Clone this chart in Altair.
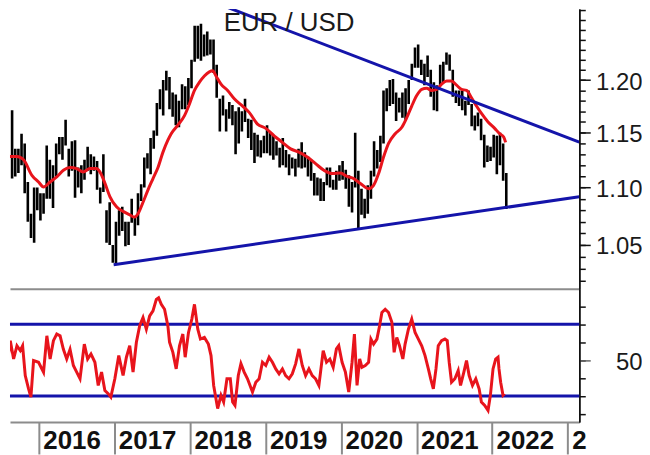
import altair as alt
import pandas as pd

# ---------------- data ----------------
# EUR/USD half-month price ranges, starting with the 2nd half of Aug 2015
FIRST_HALF_MONTH = 15  # half-months counted from Jan 2015 (Aug 2nd half = 15)
bar_low = [
    1.108, 1.110, 1.113, 1.120, 1.095, 1.070, 1.056, 1.052, 1.080,
    1.071, 1.077, 1.090, 1.090, 1.082, 1.110, 1.130, 1.125, 1.138, 1.110, 1.115, 1.091,
    1.100, 1.095, 1.107, 1.115, 1.112, 1.115, 1.098, 1.086, 1.096, 1.052, 1.050, 1.035,
    1.034, 1.058, 1.062, 1.049, 1.050, 1.069, 1.058, 1.067, 1.088, 1.100, 1.117, 1.112,
    1.135, 1.147, 1.172, 1.166, 1.190, 1.172, 1.165, 1.157, 1.155, 1.172, 1.172, 1.176,
    1.192, 1.218, 1.221, 1.219, 1.223, 1.224, 1.225, 1.207, 1.183, 1.151, 1.166, 1.151,
    1.163, 1.157, 1.130, 1.140, 1.151, 1.160, 1.145, 1.134, 1.122, 1.128, 1.127, 1.131,
    1.131, 1.129, 1.125, 1.129, 1.118, 1.120, 1.118, 1.111, 1.117, 1.110, 1.118, 1.117,
    1.118, 1.110, 1.106, 1.093, 1.093, 1.088, 1.088, 1.102, 1.100, 1.098, 1.098, 1.106,
    1.107, 1.099, 1.083, 1.078, 1.100, 1.064, 1.076, 1.073, 1.077, 1.090, 1.110, 1.117,
    1.123, 1.140, 1.170, 1.175, 1.177, 1.161, 1.169, 1.164, 1.162, 1.177, 1.200, 1.212,
    1.212, 1.205, 1.195, 1.203, 1.184, 1.171, 1.170, 1.195, 1.198, 1.215, 1.209, 1.184,
    1.178, 1.175, 1.171, 1.166, 1.176, 1.156, 1.152, 1.156, 1.143, 1.118, 1.123, 1.124,
    1.127, 1.112, 1.120, 1.106, 1.081,
]
bar_high = [
    1.171, 1.135, 1.135, 1.149, 1.140, 1.105, 1.077, 1.100, 1.100,
    1.095, 1.095, 1.138, 1.125, 1.120, 1.140, 1.146, 1.146, 1.162, 1.135, 1.142, 1.143,
    1.118, 1.120, 1.125, 1.137, 1.130, 1.128, 1.124, 1.100, 1.130, 1.080, 1.087, 1.050,
    1.070, 1.080, 1.083, 1.070, 1.070, 1.090, 1.075, 1.095, 1.103, 1.127, 1.131, 1.145,
    1.152, 1.178, 1.191, 1.200, 1.209, 1.203, 1.188, 1.186, 1.180, 1.196, 1.194, 1.202,
    1.220, 1.254, 1.254, 1.256, 1.245, 1.248, 1.240, 1.240, 1.215, 1.182, 1.185, 1.172,
    1.179, 1.176, 1.170, 1.174, 1.170, 1.182, 1.163, 1.162, 1.150, 1.148, 1.143, 1.147,
    1.157, 1.150, 1.148, 1.142, 1.136, 1.145, 1.134, 1.130, 1.127, 1.126, 1.135, 1.141,
    1.132, 1.128, 1.125, 1.113, 1.109, 1.108, 1.105, 1.118, 1.118, 1.107, 1.115, 1.120,
    1.124, 1.116, 1.111, 1.105, 1.150, 1.115, 1.099, 1.090, 1.102, 1.115, 1.142, 1.134,
    1.147, 1.190, 1.192, 1.200, 1.201, 1.188, 1.183, 1.188, 1.192, 1.200, 1.216, 1.232,
    1.235, 1.220, 1.216, 1.224, 1.210, 1.198, 1.195, 1.215, 1.218, 1.227, 1.225, 1.210,
    1.190, 1.190, 1.190, 1.180, 1.190, 1.177, 1.166, 1.169, 1.163, 1.148, 1.138, 1.137,
    1.148, 1.147, 1.150, 1.140, 1.113,
]

# red moving average (decimal year, price)
ma_points = [
    (2015.513, 1.140), (2015.556, 1.134), (2015.622, 1.128), (2015.710, 1.128),
    (2015.798, 1.125), (2015.908, 1.111), (2015.996, 1.105), (2016.062, 1.1005),
    (2016.149, 1.105), (2016.237, 1.1095), (2016.325, 1.1155), (2016.413, 1.118),
    (2016.501, 1.117), (2016.588, 1.114), (2016.676, 1.117), (2016.764, 1.117),
    (2016.808, 1.114), (2016.874, 1.104), (2016.940, 1.092), (2017.028, 1.083),
    (2017.115, 1.079), (2017.203, 1.076), (2017.269, 1.074), (2017.313, 1.077),
    (2017.379, 1.087), (2017.445, 1.098), (2017.511, 1.108), (2017.577, 1.118),
    (2017.643, 1.132), (2017.708, 1.143), (2017.752, 1.149), (2017.840, 1.157),
    (2017.928, 1.166), (2017.994, 1.177), (2018.060, 1.190), (2018.126, 1.198),
    (2018.191, 1.204), (2018.257, 1.208), (2018.301, 1.209), (2018.345, 1.204),
    (2018.411, 1.196), (2018.499, 1.190), (2018.587, 1.182), (2018.697, 1.175),
    (2018.784, 1.169), (2018.894, 1.158), (2019.004, 1.154), (2019.114, 1.147),
    (2019.223, 1.141), (2019.333, 1.135), (2019.443, 1.132), (2019.553, 1.1275),
    (2019.663, 1.1215), (2019.773, 1.1155), (2019.882, 1.1125), (2019.992, 1.113),
    (2020.080, 1.110), (2020.168, 1.108), (2020.256, 1.1036), (2020.365, 1.099),
    (2020.431, 1.102), (2020.497, 1.1125), (2020.563, 1.1275), (2020.629, 1.140),
    (2020.717, 1.149), (2020.805, 1.155), (2020.870, 1.164), (2020.936, 1.175),
    (2021.002, 1.185), (2021.068, 1.191), (2021.134, 1.192), (2021.200, 1.190),
    (2021.266, 1.191), (2021.332, 1.196), (2021.398, 1.199), (2021.463, 1.199),
    (2021.529, 1.195), (2021.595, 1.191), (2021.661, 1.190), (2021.727, 1.183),
    (2021.793, 1.175), (2021.859, 1.168), (2021.946, 1.160), (2022.034, 1.154),
    (2022.100, 1.149), (2022.153, 1.146), (2022.179, 1.141),
]

# oscillator in the lower panel (decimal year, value)
rsi_points = [
    (2015.534, 39.6), (2015.578, 47.0), (2015.622, 60.8), (2015.666, 50.6), (2015.710, 58.0),
    (2015.754, 55.3), (2015.785, 58.0), (2015.820, 41.4), (2015.864, 34.0), (2015.895, 29.4),
    (2015.930, 49.7), (2015.996, 48.8), (2016.062, 43.3), (2016.106, 63.5), (2016.149, 50.6),
    (2016.193, 60.8), (2016.237, 64.5), (2016.281, 63.5), (2016.325, 56.0), (2016.369, 50.6),
    (2016.413, 56.0), (2016.457, 47.0), (2016.501, 43.3), (2016.545, 39.6), (2016.602, 58.9),
    (2016.646, 50.6), (2016.690, 53.4), (2016.742, 48.8), (2016.786, 35.9), (2016.830, 43.3),
    (2016.874, 33.1), (2016.918, 31.3), (2016.953, 29.4), (2017.006, 39.6), (2017.058, 52.5),
    (2017.115, 41.4), (2017.159, 51.6), (2017.203, 58.0), (2017.247, 43.3), (2017.291, 59.9),
    (2017.335, 69.1), (2017.379, 73.7), (2017.423, 67.2), (2017.467, 74.6), (2017.511, 77.4),
    (2017.555, 83.8), (2017.585, 84.7), (2017.621, 81.0), (2017.664, 78.3), (2017.708, 69.0),
    (2017.730, 59.9), (2017.774, 54.3), (2017.818, 45.1), (2017.862, 58.0), (2017.906, 64.5),
    (2017.937, 51.6), (2017.981, 65.4), (2018.025, 72.8), (2018.060, 81.0), (2018.104, 67.2),
    (2018.139, 61.7), (2018.191, 62.6), (2018.244, 58.9), (2018.279, 52.5), (2018.314, 35.9),
    (2018.367, 23.0), (2018.411, 30.4), (2018.446, 26.7), (2018.490, 39.6), (2018.534, 39.6),
    (2018.565, 26.7), (2018.596, 24.8), (2018.640, 41.4), (2018.675, 48.0), (2018.718, 43.3),
    (2018.762, 39.6), (2018.828, 32.2), (2018.872, 37.7), (2018.916, 39.6), (2018.960, 48.8),
    (2019.004, 47.0), (2019.048, 51.6), (2019.092, 48.8), (2019.136, 45.1), (2019.180, 42.4),
    (2019.224, 45.1), (2019.267, 41.4), (2019.311, 39.6), (2019.355, 42.4), (2019.399, 47.9),
    (2019.443, 56.2), (2019.487, 47.0), (2019.531, 41.4), (2019.575, 45.1), (2019.619, 41.4),
    (2019.663, 39.6), (2019.707, 35.9), (2019.764, 55.3), (2019.808, 48.8), (2019.852, 50.6),
    (2019.896, 46.0), (2019.939, 56.2), (2019.970, 58.0), (2020.014, 48.8), (2020.058, 43.3),
    (2020.102, 32.2), (2020.146, 48.8), (2020.177, 64.5), (2020.212, 35.9), (2020.247, 50.6),
    (2020.277, 46.0), (2020.321, 47.0), (2020.365, 48.8), (2020.396, 61.7), (2020.431, 58.9),
    (2020.475, 61.7), (2020.510, 69.0), (2020.541, 76.5), (2020.585, 78.3), (2020.629, 76.5),
    (2020.673, 71.0), (2020.703, 54.3), (2020.738, 62.6), (2020.774, 58.0), (2020.818, 50.6),
    (2020.848, 58.9), (2020.892, 67.2), (2020.936, 72.8), (2020.980, 65.4), (2021.024, 61.7),
    (2021.068, 58.0), (2021.112, 52.5), (2021.156, 45.1), (2021.187, 39.6), (2021.222, 34.0),
    (2021.257, 45.1), (2021.287, 58.0), (2021.331, 60.8), (2021.375, 61.7), (2021.406, 60.8),
    (2021.432, 48.8), (2021.463, 37.7), (2021.507, 39.6), (2021.551, 44.2), (2021.582, 35.9),
    (2021.626, 43.3), (2021.661, 49.7), (2021.696, 41.4), (2021.740, 35.9), (2021.784, 39.6),
    (2021.828, 34.0), (2021.858, 26.7), (2021.902, 24.8), (2021.946, 22.0), (2021.977, 30.4),
    (2022.012, 45.1), (2022.047, 50.6), (2022.078, 51.6), (2022.091, 45.1), (2022.113, 37.7),
    (2022.144, 30.4), (2022.166, 31.3),
]

upper_trend = [(2018.148, 1.2832), (2023.154, 1.1412)]
lower_trend = [(2016.990, 1.0333), (2023.154, 1.0919)]
rsi_levels = [30, 70]

year_ticks = [2016, 2017, 2018, 2019, 2020, 2021, 2022, 2023]
price_labels = [1.05, 1.10, 1.15, 1.20]
price_minor = [1.02, 1.03, 1.04, 1.05, 1.06, 1.07, 1.08, 1.09, 1.10, 1.11, 1.12, 1.13, 1.14,
               1.15, 1.16, 1.17, 1.18, 1.19, 1.20, 1.21, 1.22, 1.23, 1.24, 1.25, 1.26, 1.27]
rsi_labels = [50]
rsi_minor = [20, 30, 40, 50, 60, 70, 80, 90]
title_text = "EUR / USD"

# ---------------- tables ----------------
bar_t = []
for i in range(len(bar_low)):
    k = FIRST_HALF_MONTH + i
    year = 2015 + k // 24
    idx = k % 24
    bar_t.append(year + (idx // 2 + 0.25 + 0.5 * (idx % 2)) / 12.0)
bars_df = pd.DataFrame({"t": bar_t, "low": bar_low, "high": bar_high})
ma_df = pd.DataFrame(ma_points, columns=["t", "p"])
rsi_df = pd.DataFrame(rsi_points, columns=["t", "v"])
trend_df = pd.DataFrame(
    [("upper", t, p) for t, p in upper_trend] + [("lower", t, p) for t, p in lower_trend],
    columns=["line", "t", "p"],
)
levels_df = pd.DataFrame({"level": rsi_levels})
title_df = pd.DataFrame({"label": [title_text]})

# ---------------- styling ----------------
W = 572
H_TOP = 281
H_BOT = 134
BLUE = "#1414aa"
RED = "#e8141c"
GRAY = "#8c8c8c"
FONT = "Liberation Sans"

xscale = alt.Scale(domain=[2015.618, 2023.154], nice=False, zero=False)
yscale_top = alt.Scale(type="log", domain=[1.0135, 1.271], nice=False, zero=False)
yscale_bot = alt.Scale(domain=[15.5, 89.7], nice=False, zero=False)

x_axis_top = alt.Axis(orient="bottom", title=None, labels=False, ticks=False, grid=False,
                      domain=True, domainColor=GRAY, domainWidth=2)
x_axis_bot = alt.Axis(orient="bottom", title=None, grid=False, values=year_ticks, format="d",
                      labelExpr="datum.value == 2023 ? '2' : datum.label",
                      domain=True, domainColor=GRAY, domainWidth=2,
                      ticks=True, tickSize=32, tickColor=GRAY, tickWidth=2,
                      labelFont=FONT, labelFontWeight="bold", labelFontSize=26,
                      labelColor="#111111", labelAlign="left", labelBaseline="alphabetic",
                      labelPadding=-5, labelOffset=4, labelFlush=False, labelOverlap=False)


def major_axis(vals, fmt, tick_color):
    return alt.Axis(orient="right", title=None, grid=False, values=vals, format=fmt,
                    domain=True, domainColor="#111111", domainWidth=1.5,
                    ticks=True, tickSize=11, tickWidth=1.5, tickColor=tick_color,
                    labelFont=FONT, labelFontSize=24, labelColor="#1a1a1a",
                    labelAlign="right", labelBaseline="middle", labelPadding=52,
                    labelOffset=2, labelFlush=False, labelOverlap=False)


def minor_axis(vals):
    return alt.Axis(orient="right", title=None, grid=False, values=vals, labels=False,
                    domain=True, domainColor="#111111", domainWidth=1.5,
                    ticks=True, tickSize=6, tickWidth=1.5, tickColor="#111111")


X_TOP = alt.X("t:Q", scale=xscale, axis=x_axis_top)
X_BOT = alt.X("t:Q", scale=xscale, axis=x_axis_bot)

# ---------------- upper panel ----------------
bars = alt.Chart(bars_df).mark_rule(color="black", strokeWidth=2.6, clip=True).encode(
    x=X_TOP,
    y=alt.Y("low:Q", scale=yscale_top, axis=major_axis(price_labels, ".2f", "#111111")),
    y2="high:Q",
)
ma = alt.Chart(ma_df).mark_line(color=RED, strokeWidth=3, clip=True, interpolate="monotone").encode(
    x=X_TOP,
    y=alt.Y("p:Q", scale=yscale_top, axis=minor_axis(price_minor)),
)
trend = alt.Chart(trend_df).mark_line(color=BLUE, strokeWidth=3, clip=True).encode(
    x=X_TOP,
    y=alt.Y("p:Q", scale=yscale_top, axis=None),
    detail="line:N",
)
title = alt.Chart(title_df).mark_text(
    font=FONT, fontSize=26, color="#1a1a1a", align="left", baseline="alphabetic"
).encode(x=alt.value(214.7), y=alt.value(22), text="label:N")

top = alt.layer(bars, ma, trend, title).resolve_axis(y="independent").properties(
    width=W, height=H_TOP
)

# ---------------- lower panel ----------------
levels = alt.Chart(levels_df).mark_rule(color=BLUE, strokeWidth=3).encode(
    y=alt.Y("level:Q", scale=yscale_bot, axis=minor_axis(rsi_minor)),
)
rsi = alt.Chart(rsi_df).mark_line(color=RED, strokeWidth=3, clip=True).encode(
    x=X_BOT,
    y=alt.Y("v:Q", scale=yscale_bot, axis=major_axis(rsi_labels, "d", "#666666")),
)
bottom = alt.layer(levels, rsi).resolve_axis(y="independent").properties(
    width=W, height=H_BOT
)

chart = (
    alt.vconcat(top, bottom, spacing=0, bounds="flush")
    .properties(padding=0)
    .configure_view(stroke=None)
)

chart.save("out.html", embed_options={"renderer": "svg", "actions": False})
